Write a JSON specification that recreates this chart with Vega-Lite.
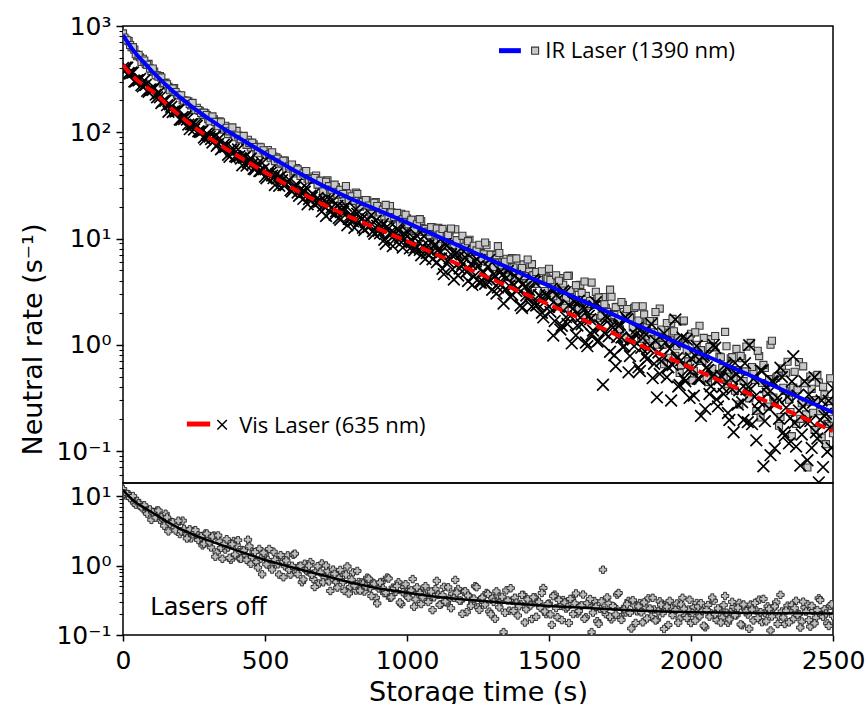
{
"$schema":"https://vega.github.io/schema/vega-lite/v6.json",
"padding":{"left":18,"top":13,"right":10,"bottom":0},
"background":"white",
"spacing":0,
"bounds":"flush",
"config":{"view":{"stroke":"black","strokeWidth":1.5},"font":"DejaVu Sans",
"axis":{"domain":false,"grid":false,"labelFont":"DejaVu Sans","labelFontSize":25,"labelColor":"black","titleFont":"DejaVu Sans","titleFontSize":27,"titleFontWeight":"normal","titleColor":"black","tickColor":"black","labelOverlap":false,"labelFlush":false}},
"datasets":{
"pts":[
{"t":0,"ir":851,"vis":403,"off":12.6},{"t":10,"ir":743,"vis":407,"off":10.2},{"t":20,"ir":721,"vis":361,"off":10.6},{"t":30,"ir":631,"vis":365,"off":9.14},{"t":40,"ir":600,"vis":300,"off":7.98},{"t":50,"ir":520,"vis":309,"off":8.53},{"t":60,"ir":508,"vis":317,"off":7.23},{"t":70,"ir":491,"vis":270,"off":7.26},{"t":80,"ir":437,"vis":279,"off":5.98},{"t":90,"ir":440,"vis":240,"off":6.32},
{"t":100,"ir":376,"vis":251,"off":4.54},{"t":110,"ir":372,"vis":262,"off":5.87},{"t":120,"ir":343,"vis":213,"off":6.19},{"t":130,"ir":338,"vis":213,"off":4.55},{"t":140,"ir":288,"vis":195,"off":4.73},{"t":150,"ir":294,"vis":199,"off":5.56},{"t":160,"ir":268,"vis":156,"off":3.1},{"t":170,"ir":259,"vis":174,"off":4.25},{"t":180,"ir":260,"vis":158,"off":3.56},{"t":190,"ir":226,"vis":159,"off":3.99},
{"t":200,"ir":223,"vis":132,"off":2.84},{"t":210,"ir":200,"vis":139,"off":4.42},{"t":220,"ir":199,"vis":141,"off":2.91},{"t":230,"ir":195,"vis":118,"off":3.12},{"t":240,"ir":179,"vis":119,"off":2.46},{"t":250,"ir":161,"vis":106,"off":3.16},{"t":260,"ir":170,"vis":115,"off":2.88},{"t":270,"ir":159,"vis":101,"off":2.49},{"t":280,"ir":146,"vis":103,"off":1.95},{"t":290,"ir":151,"vis":85.7,"off":2.89},
{"t":300,"ir":133,"vis":93.7,"off":2.42},{"t":310,"ir":132,"vis":86.3,"off":1.82},{"t":320,"ir":132,"vis":89.9,"off":2.7},{"t":330,"ir":115,"vis":74.6,"off":1.54},{"t":340,"ir":127,"vis":87.9,"off":2.23},{"t":350,"ir":111,"vis":71.1,"off":1.25},{"t":360,"ir":115,"vis":72.6,"off":1.7},{"t":370,"ir":96,"vis":61.3,"off":1.82},{"t":380,"ir":103,"vis":68.9,"off":1.21},{"t":390,"ir":95,"vis":69.0,"off":2.25},
{"t":400,"ir":103,"vis":58.4,"off":1.97},{"t":410,"ir":86,"vis":59.6,"off":1.27},{"t":420,"ir":88,"vis":48.9,"off":1.67},{"t":430,"ir":83,"vis":58.6,"off":1.39},{"t":440,"ir":85,"vis":52.1,"off":2.35},{"t":450,"ir":72,"vis":56.6,"off":1.06},{"t":460,"ir":77,"vis":45.4,"off":1.55},{"t":470,"ir":64,"vis":48.5,"off":1.13},{"t":480,"ir":73,"vis":43.2,"off":1.73},{"t":490,"ir":67,"vis":51.3,"off":0.746},
{"t":500,"ir":63,"vis":38.2,"off":1.47},{"t":510,"ir":68,"vis":41.0,"off":1.2},{"t":520,"ir":57,"vis":41.5,"off":0.955},{"t":530,"ir":59,"vis":37.0,"off":1.58},{"t":540,"ir":58,"vis":40.2,"off":1.14},{"t":550,"ir":50,"vis":31.3,"off":0.741},{"t":560,"ir":52,"vis":35.4,"off":1.33},{"t":570,"ir":54,"vis":32.3,"off":0.977},{"t":580,"ir":47,"vis":34.3,"off":1.4},{"t":590,"ir":48,"vis":28.4,"off":0.74},
{"t":600,"ir":41,"vis":30.2,"off":1.43},{"t":610,"ir":46,"vis":32.4,"off":0.798},{"t":620,"ir":42.8,"vis":25.2,"off":0.979},{"t":630,"ir":40.2,"vis":26.6,"off":0.575},{"t":640,"ir":42.4,"vis":27.5,"off":1.06},{"t":650,"ir":36.5,"vis":21.0,"off":0.822},{"t":660,"ir":38.3,"vis":25.3,"off":1.12},{"t":670,"ir":35.6,"vis":25.9,"off":0.64},{"t":680,"ir":39.2,"vis":21.9,"off":0.826},{"t":690,"ir":31.7,"vis":22.2,"off":0.551},
{"t":700,"ir":33.8,"vis":18.0,"off":1.07},{"t":710,"ir":30.5,"vis":23.0,"off":0.676},{"t":720,"ir":35.2,"vis":21.0,"off":0.83},{"t":730,"ir":26.7,"vis":17.7,"off":0.43},{"t":740,"ir":29.4,"vis":22.7,"off":0.873},{"t":750,"ir":30.5,"vis":18.0,"off":0.582},{"t":760,"ir":27.0,"vis":15.6,"off":0.662},{"t":770,"ir":22.5,"vis":18.9,"off":0.791},{"t":780,"ir":28.6,"vis":19.3,"off":0.431},{"t":790,"ir":26.5,"vis":13.3,"off":0.97},
{"t":800,"ir":23.1,"vis":16.5,"off":0.49},{"t":810,"ir":24.5,"vis":14.5,"off":0.796},{"t":820,"ir":27.1,"vis":18.9,"off":0.437},{"t":830,"ir":20.6,"vis":14.3,"off":0.579},{"t":840,"ir":23.0,"vis":15.2,"off":0.569},{"t":850,"ir":20.8,"vis":12.0,"off":0.422},{"t":860,"ir":22.9,"vis":15.2,"off":0.668},{"t":870,"ir":17.9,"vis":13.2,"off":0.472},{"t":880,"ir":20.0,"vis":11.7,"off":0.566},{"t":890,"ir":22.0,"vis":14.8,"off":0.344},
{"t":900,"ir":18.0,"vis":11.8,"off":0.468},{"t":910,"ir":19.8,"vis":12.9,"off":0.579},{"t":920,"ir":16.2,"vis":9.75,"off":0.4},{"t":930,"ir":18.1,"vis":12.9,"off":0.671},{"t":940,"ir":20.2,"vis":11.3,"off":0.343},{"t":950,"ir":15.4,"vis":8.47,"off":0.481},{"t":960,"ir":16.4,"vis":11.0,"off":0.418},{"t":970,"ir":15.4,"vis":11.9,"off":0.573},{"t":980,"ir":17.1,"vis":9.2,"off":0.278},{"t":990,"ir":12.3,"vis":9.81,"off":0.49},
{"t":1000,"ir":15.5,"vis":11.7,"off":0.366},{"t":1010,"ir":14.1,"vis":8.07,"off":0.42},{"t":1020,"ir":15.0,"vis":9.5,"off":0.638},{"t":1030,"ir":11.8,"vis":8.24,"off":0.326},{"t":1040,"ir":13.6,"vis":9.33,"off":0.436},{"t":1050,"ir":14.6,"vis":6.96,"off":0.279},{"t":1060,"ir":11.6,"vis":10.5,"off":0.384},{"t":1070,"ir":12.3,"vis":7.29,"off":0.452},{"t":1080,"ir":10.7,"vis":7.85,"off":0.337},{"t":1090,"ir":12.7,"vis":6.39,"off":0.228},
{"t":1100,"ir":11.1,"vis":8.79,"off":0.457},{"t":1110,"ir":12.6,"vis":7.87,"off":0.379},{"t":1120,"ir":8.55,"vis":6.49,"off":0.277},{"t":1130,"ir":11.4,"vis":4.62,"off":0.493},{"t":1140,"ir":10.3,"vis":8.55,"off":0.294},{"t":1150,"ir":11.6,"vis":6.5,"off":0.34},{"t":1160,"ir":8.65,"vis":5.14,"off":0.392},{"t":1170,"ir":12.2,"vis":7.11,"off":0.62},{"t":1180,"ir":8.69,"vis":4.48,"off":0.46},{"t":1190,"ir":9.4,"vis":6.07,"off":0.312},
{"t":1200,"ir":7.19,"vis":7.57,"off":0.417},{"t":1210,"ir":9.29,"vis":4.86,"off":0.213},{"t":1220,"ir":9.74,"vis":5.14,"off":0.357},{"t":1230,"ir":7.46,"vis":3.66,"off":0.292},{"t":1240,"ir":8.05,"vis":6.11,"off":0.504},{"t":1250,"ir":5.82,"vis":5.48,"off":0.25},{"t":1260,"ir":8.48,"vis":3.83,"off":0.327},{"t":1270,"ir":7.11,"vis":4.78,"off":0.299},{"t":1280,"ir":8.65,"vis":4.1,"off":0.402},{"t":1290,"ir":5.97,"vis":6.3,"off":0.217},
{"t":1300,"ir":7.05,"vis":3.29,"off":0.344},{"t":1310,"ir":5.9,"vis":4.46,"off":0.171},{"t":1320,"ir":8.47,"vis":3.45,"off":0.369},{"t":1330,"ir":5.11,"vis":4.88,"off":0.302},{"t":1340,"ir":6.04,"vis":2.44,"off":0.11},{"t":1350,"ir":6.44,"vis":4.26,"off":0.439},{"t":1360,"ir":5.39,"vis":3.58,"off":0.224},{"t":1370,"ir":6.56,"vis":2.95,"off":0.31},{"t":1380,"ir":4.26,"vis":4.44,"off":0.344},{"t":1390,"ir":5.6,"vis":3.37,"off":0.191},
{"t":1400,"ir":4.9,"vis":2.35,"off":0.28},{"t":1410,"ir":5.7,"vis":3.76,"off":0.377},{"t":1420,"ir":4.18,"vis":2.91,"off":0.234},{"t":1430,"ir":4.86,"vis":3.27,"off":0.306},{"t":1440,"ir":5.74,"vis":2.29,"off":0.17},{"t":1450,"ir":3.74,"vis":3.9,"off":0.348},{"t":1460,"ir":4.29,"vis":2.4,"off":0.284},{"t":1470,"ir":4.7,"vis":2.82,"off":0.246},{"t":1480,"ir":2.96,"vis":1.81,"off":0.474},{"t":1490,"ir":4.32,"vis":2.96,"off":0.2},
{"t":1500,"ir":5.18,"vis":2.28,"off":0.284},{"t":1510,"ir":3.4,"vis":3.37,"off":0.14},{"t":1520,"ir":3.8,"vis":1.67,"off":0.381},{"t":1530,"ir":2.62,"vis":2.31,"off":0.18},{"t":1540,"ir":4.23,"vis":1.39,"off":0.263},{"t":1550,"ir":3.67,"vis":3.23,"off":0.318},{"t":1560,"ir":2.77,"vis":1.82,"off":0.24},{"t":1570,"ir":4.48,"vis":2.36,"off":0.149},{"t":1580,"ir":3.01,"vis":1.03,"off":0.33},{"t":1590,"ir":2.38,"vis":2.54,"off":0.286},
{"t":1600,"ir":3.43,"vis":1.52,"off":0.204},{"t":1610,"ir":3.66,"vis":1.8,"off":0.261},{"t":1620,"ir":1.91,"vis":2.26,"off":0.382},{"t":1630,"ir":2.88,"vis":1.05,"off":0.18},{"t":1640,"ir":2.33,"vis":1.88,"off":0.272},{"t":1650,"ir":3.85,"vis":1.25,"off":0.11},{"t":1660,"ir":2.37,"vis":2.31,"off":0.308},{"t":1670,"ir":2.7,"vis":1.07,"off":0.158},{"t":1680,"ir":1.78,"vis":1.53,"off":0.238},{"t":1690,"ir":2.81,"vis":0.42,"off":0.87},
{"t":1700,"ir":2.22,"vis":1.88,"off":0.2},{"t":1710,"ir":1.79,"vis":1.2,"off":0.285},{"t":1720,"ir":2.83,"vis":1.51,"off":0.168},{"t":1730,"ir":1.91,"vis":0.798,"off":0.253},{"t":1740,"ir":2.28,"vis":1.18,"off":0.381},{"t":1750,"ir":1.4,"vis":1.54,"off":0.18},{"t":1760,"ir":2.37,"vis":0.953,"off":0.237},{"t":1770,"ir":1.92,"vis":1.82,"off":0.211},{"t":1780,"ir":1.15,"vis":0.55,"off":0.309},{"t":1790,"ir":1.9,"vis":1.17,"off":0.124},
{"t":1800,"ir":2.22,"vis":0.97,"off":0.267},{"t":1810,"ir":1.43,"vis":1.44,"off":0.219},{"t":1820,"ir":1.63,"vis":0.566,"off":0.288},{"t":1830,"ir":2.3,"vis":1.16,"off":0.152},{"t":1840,"ir":1.2,"vis":0.789,"off":0.249},{"t":1850,"ir":1.65,"vis":0.933,"off":0.336},{"t":1860,"ir":1.31,"vis":1.57,"off":0.182},{"t":1870,"ir":1.67,"vis":0.661,"off":0.233},{"t":1880,"ir":1.0,"vis":0.32,"off":0.166},{"t":1890,"ir":2.19,"vis":0.532,"off":0.305},
{"t":1900,"ir":0.995,"vis":0.78,"off":0.206},{"t":1910,"ir":1.3,"vis":1.05,"off":0.271},{"t":1920,"ir":0.755,"vis":0.614,"off":0.139},{"t":1930,"ir":1.59,"vis":0.299,"off":0.248},{"t":1940,"ir":1.34,"vis":1.06,"off":0.216},{"t":1950,"ir":0.97,"vis":0.746,"off":0.284},{"t":1960,"ir":0.543,"vis":0.418,"off":0.172},{"t":1970,"ir":1.66,"vis":1.17,"off":0.343},{"t":1980,"ir":1.03,"vis":0.454,"off":0.191},{"t":1990,"ir":0.697,"vis":0.582,"off":0.232},
{"t":2000,"ir":1.27,"vis":0.746,"off":0.149},{"t":2010,"ir":0.569,"vis":0.332,"off":0.251},{"t":2020,"ir":1.0,"vis":0.975,"off":0.288},{"t":2030,"ir":1.51,"vis":0.475,"off":0.185},{"t":2040,"ir":0.703,"vis":0.767,"off":0.223},{"t":2050,"ir":0.794,"vis":0.248,"off":0.129},{"t":2060,"ir":0.445,"vis":0.578,"off":0.27},{"t":2070,"ir":1.13,"vis":0.407,"off":0.205},{"t":2080,"ir":0.946,"vis":0.995,"off":0.31},{"t":2090,"ir":0.511,"vis":0.306,"off":0.164},
{"t":2100,"ir":0.773,"vis":0.472,"off":0.234},{"t":2110,"ir":0.603,"vis":0.4,"off":0.178},{"t":2120,"ir":1.32,"vis":0.646,"off":0.364},{"t":2130,"ir":0.425,"vis":0.228,"off":0.15},{"t":2140,"ir":0.745,"vis":0.485,"off":0.215},{"t":2150,"ir":0.484,"vis":0.15,"off":0.254},{"t":2160,"ir":0.914,"vis":0.528,"off":0.192},{"t":2170,"ir":0.274,"vis":0.372,"off":0.29},{"t":2180,"ir":0.746,"vis":0.288,"off":0.138},{"t":2190,"ir":0.561,"vis":0.671,"off":0.239},
{"t":2200,"ir":0.369,"vis":0.187,"off":0.197},{"t":2210,"ir":1.04,"vis":0.384,"off":0.274},{"t":2220,"ir":0.551,"vis":0.479,"off":0.162},{"t":2230,"ir":0.238,"vis":0.126,"off":0.225},{"t":2240,"ir":0.782,"vis":0.293,"off":0.323},{"t":2250,"ir":0.437,"vis":0.566,"off":0.153},{"t":2260,"ir":0.605,"vis":0.191,"off":0.207},{"t":2270,"ir":0.262,"vis":0.347,"off":0.258},{"t":2280,"ir":1.0,"vis":0.0914,"off":0.116},{"t":2290,"ir":0.319,"vis":0.448,"off":0.244},
{"t":2300,"ir":0.49,"vis":0.282,"off":0.295},{"t":2310,"ir":0.173,"vis":0.201,"off":0.185},{"t":2320,"ir":0.597,"vis":0.497,"off":0.218},{"t":2330,"ir":0.368,"vis":0.139,"off":0.144},{"t":2340,"ir":0.692,"vis":0.324,"off":0.264},{"t":2350,"ir":0.233,"vis":0.204,"off":0.23},{"t":2360,"ir":0.395,"vis":0.78,"off":0.169},{"t":2370,"ir":0.18,"vis":0.11,"off":0.311},{"t":2380,"ir":0.687,"vis":0.241,"off":0.2},{"t":2390,"ir":0.282,"vis":0.143,"off":0.156},
{"t":2400,"ir":0.434,"vis":0.452,"off":0.249},{"t":2410,"ir":0.07,"vis":0.082,"off":0.278},{"t":2420,"ir":0.502,"vis":0.191,"off":0.132},{"t":2430,"ir":0.229,"vis":0.286,"off":0.222},{"t":2440,"ir":0.301,"vis":0.15,"off":0.178},{"t":2450,"ir":0.441,"vis":0.0507,"off":0.337},{"t":2460,"ir":0.134,"vis":0.299,"off":0.193},{"t":2470,"ir":0.34,"vis":0.213,"off":0.234},{"t":2480,"ir":0.18,"vis":0.0984,"off":0.147},{"t":2490,"ir":0.483,"vis":0.167,"off":0.262},
{"t":2500,"ir":0.147,"vis":0.389,"off":0.188},
{"t":5,"ir":780,"vis":373,"off":10.9},{"t":15,"ir":733,"vis":404,"off":10.7},{"t":25,"ir":662,"vis":356,"off":9.35},{"t":35,"ir":632,"vis":365,"off":10.0},{"t":45,"ir":542,"vis":302,"off":7.52},{"t":55,"ir":535,"vis":308,"off":7.85},{"t":65,"ir":459,"vis":277,"off":6.88},{"t":75,"ir":473,"vis":307,"off":7.36},{"t":85,"ir":431,"vis":245,"off":5.58},{"t":95,"ir":397,"vis":253,"off":6.41},
{"t":105,"ir":398,"vis":251,"off":5.81},{"t":115,"ir":344,"vis":226,"off":4.9},{"t":125,"ir":334,"vis":233,"off":6.18},{"t":135,"ir":327,"vis":188,"off":4.94},{"t":145,"ir":290,"vis":198,"off":3.73},{"t":155,"ir":283,"vis":180,"off":4.92},{"t":165,"ir":249,"vis":183,"off":4.01},{"t":175,"ir":258,"vis":155,"off":4.2},{"t":185,"ir":239,"vis":157,"off":3.2},{"t":195,"ir":223,"vis":161,"off":4.41},
{"t":205,"ir":223,"vis":131,"off":3.1},{"t":215,"ir":198,"vis":133,"off":3.37},{"t":225,"ir":198,"vis":132,"off":2.45},{"t":235,"ir":184,"vis":107,"off":3.31},{"t":245,"ir":189,"vis":119,"off":2.81},{"t":255,"ir":162,"vis":118,"off":3.23},{"t":265,"ir":162,"vis":102,"off":2.33},{"t":275,"ir":152,"vis":101,"off":2.62},{"t":285,"ir":153,"vis":89.1,"off":2.06},{"t":295,"ir":145,"vis":96.8,"off":2.88},
{"t":305,"ir":127,"vis":91.0,"off":2.15},{"t":315,"ir":141,"vis":80.0,"off":2.62},{"t":325,"ir":125,"vis":91.7,"off":1.34},{"t":335,"ir":114,"vis":77.4,"off":2.71},{"t":345,"ir":124,"vis":69.2,"off":1.79},{"t":355,"ir":106,"vis":76.3,"off":2.02},{"t":365,"ir":110,"vis":75.9,"off":2.39},{"t":375,"ir":102,"vis":58.7,"off":1.29},{"t":385,"ir":111,"vis":65.9,"off":2.02},{"t":395,"ir":89.7,"vis":59.5,"off":1.44},
{"t":405,"ir":93.2,"vis":69.0,"off":2.31},{"t":415,"ir":85.8,"vis":56.6,"off":1.25},{"t":425,"ir":92.3,"vis":57.7,"off":1.64},{"t":435,"ir":76.1,"vis":48.5,"off":1.21},{"t":445,"ir":79.5,"vis":55.4,"off":1.89},{"t":455,"ir":79.8,"vis":49.7,"off":1.32},{"t":465,"ir":72.6,"vis":44.9,"off":1.56},{"t":475,"ir":63.5,"vis":51.2,"off":0.934},{"t":485,"ir":72.3,"vis":43.4,"off":1.26},{"t":495,"ir":67.7,"vis":45.0,"off":1.53},
{"t":505,"ir":61.0,"vis":36.9,"off":1.04},{"t":515,"ir":61.9,"vis":43.3,"off":1.73},{"t":525,"ir":64.8,"vis":39.1,"off":0.874},{"t":535,"ir":53.5,"vis":31.9,"off":1.21},{"t":545,"ir":56.3,"vis":37.0,"off":1.04},{"t":555,"ir":51.9,"vis":38.1,"off":1.41},{"t":565,"ir":54.0,"vis":31.8,"off":0.678},{"t":575,"ir":45.4,"vis":32.5,"off":1.18},{"t":585,"ir":47.7,"vis":35.6,"off":0.872},{"t":595,"ir":49.6,"vis":27.7,"off":0.99},
{"t":605,"ir":42.9,"vis":30.1,"off":1.48},{"t":615,"ir":44.7,"vis":27.1,"off":0.75},{"t":625,"ir":38.8,"vis":28.9,"off":0.992},{"t":635,"ir":40.9,"vis":23.6,"off":0.63},{"t":645,"ir":43.1,"vis":30.2,"off":0.854},{"t":655,"ir":35.7,"vis":23.5,"off":0.995},{"t":665,"ir":36.4,"vis":24.3,"off":0.736},{"t":675,"ir":37.1,"vis":21.0,"off":0.491},{"t":685,"ir":32.2,"vis":24.1,"off":0.974},{"t":695,"ir":35.0,"vis":22.6,"off":0.796},
{"t":705,"ir":27.7,"vis":20.3,"off":0.573},{"t":715,"ir":34.2,"vis":16.3,"off":1.0},{"t":725,"ir":31.1,"vis":23.5,"off":0.59},{"t":735,"ir":28.8,"vis":19.6,"off":0.669},{"t":745,"ir":32.1,"vis":16.7,"off":0.759},{"t":755,"ir":25.9,"vis":20.2,"off":0.482},{"t":765,"ir":28.7,"vis":15.0,"off":0.864},{"t":775,"ir":26.2,"vis":17.9,"off":0.576},{"t":785,"ir":31.2,"vis":20.3,"off":0.742},{"t":795,"ir":22.8,"vis":15.3,"off":0.395},
{"t":805,"ir":25.0,"vis":15.7,"off":0.625},{"t":815,"ir":22.6,"vis":12.6,"off":0.513},{"t":825,"ir":26.3,"vis":17.1,"off":0.835},{"t":835,"ir":19.95,"vis":15.8,"off":0.435},{"t":845,"ir":22.1,"vis":12.6,"off":0.549},{"t":855,"ir":23.0,"vis":14.3,"off":0.498},{"t":865,"ir":20.4,"vis":12.9,"off":0.646},{"t":875,"ir":17.0,"vis":16.6,"off":0.363},{"t":885,"ir":21.7,"vis":11.1,"off":0.547},{"t":895,"ir":20.2,"vis":13.2,"off":0.285},
{"t":905,"ir":17.6,"vis":11.2,"off":0.569},{"t":915,"ir":18.7,"vis":13.7,"off":0.469},{"t":925,"ir":20.7,"vis":8.92,"off":0.407},{"t":935,"ir":15.7,"vis":12.4,"off":0.65},{"t":945,"ir":17.6,"vis":11.0,"off":0.349},{"t":955,"ir":15.9,"vis":9.72,"off":0.466},{"t":965,"ir":17.4,"vis":12.3,"off":0.508},{"t":975,"ir":13.6,"vis":10.3,"off":0.294},{"t":985,"ir":15.2,"vis":8.21,"off":0.413},{"t":995,"ir":16.7,"vis":10.8,"off":0.538},
{"t":1005,"ir":13.6,"vis":9.17,"off":0.345},{"t":1015,"ir":15.0,"vis":9.75,"off":0.439},{"t":1025,"ir":12.2,"vis":7.74,"off":0.255},{"t":1035,"ir":13.6,"vis":10.6,"off":0.485},{"t":1045,"ir":15.2,"vis":7.81,"off":0.401},{"t":1055,"ir":11.6,"vis":8.51,"off":0.349},{"t":1065,"ir":12.3,"vis":6.43,"off":0.504},{"t":1075,"ir":11.6,"vis":8.58,"off":0.299},{"t":1085,"ir":12.8,"vis":7.45,"off":0.421},{"t":1095,"ir":9.18,"vis":8.54,"off":0.348},
{"t":1105,"ir":12.4,"vis":5.97,"off":0.601},{"t":1115,"ir":10.9,"vis":7.29,"off":0.272},{"t":1125,"ir":12.3,"vis":5.2,"off":0.375},{"t":1135,"ir":8.45,"vis":8.85,"off":0.303},{"t":1145,"ir":10.8,"vis":6.05,"off":0.486},{"t":1155,"ir":12.4,"vis":7.11,"off":0.243},{"t":1165,"ir":8.66,"vis":4.12,"off":0.344},{"t":1175,"ir":9.64,"vis":7.31,"off":0.407},{"t":1185,"ir":7.83,"vis":5.21,"off":0.313},{"t":1195,"ir":10.6,"vis":5.74,"off":0.202},
{"t":1205,"ir":8.36,"vis":6.59,"off":0.427},{"t":1215,"ir":9.44,"vis":3.98,"off":0.369},{"t":1225,"ir":6.41,"vis":5.74,"off":0.263},{"t":1235,"ir":8.54,"vis":4.36,"off":0.334},{"t":1245,"ir":7.73,"vis":6.41,"off":0.488},{"t":1255,"ir":8.73,"vis":3.88,"off":0.23},{"t":1265,"ir":6.49,"vis":4.84,"off":0.345},{"t":1275,"ir":9.17,"vis":3.75,"off":0.274},{"t":1285,"ir":6.52,"vis":5.41,"off":0.39},{"t":1295,"ir":7.04,"vis":4.02,"off":0.199},
{"t":1305,"ir":5.39,"vis":4.61,"off":0.299},{"t":1315,"ir":6.97,"vis":3.03,"off":0.425},{"t":1325,"ir":7.3,"vis":3.85,"off":0.25},{"t":1335,"ir":5.59,"vis":4.52,"off":0.355},{"t":1345,"ir":6.04,"vis":3.29,"off":0.209},{"t":1355,"ir":4.36,"vis":4.95,"off":0.314},{"t":1365,"ir":6.36,"vis":2.81,"off":0.471},{"t":1375,"ir":5.33,"vis":3.66,"off":0.222},{"t":1385,"ir":6.49,"vis":3.21,"off":0.291},{"t":1395,"ir":4.47,"vis":4.08,"off":0.259},
{"t":1405,"ir":5.28,"vis":2.22,"off":0.378},{"t":1415,"ir":4.43,"vis":3.48,"off":0.151},{"t":1425,"ir":6.35,"vis":2.7,"off":0.325},{"t":1435,"ir":3.83,"vis":2.97,"off":0.266},{"t":1445,"ir":4.52,"vis":4.11,"off":0.348},{"t":1455,"ir":4.83,"vis":2.34,"off":0.183},{"t":1465,"ir":4.04,"vis":2.92,"off":0.3},{"t":1475,"ir":4.92,"vis":2.0,"off":0.403},{"t":1485,"ir":3.2,"vis":2.54,"off":0.218},{"t":1495,"ir":4.19,"vis":2.86,"off":0.278},
{"t":1505,"ir":4.06,"vis":2.04,"off":0.198},{"t":1515,"ir":2.86,"vis":1.22,"off":0.362},{"t":1525,"ir":4.51,"vis":2.94,"off":0.244},{"t":1535,"ir":4.0,"vis":2.28,"off":0.32},{"t":1545,"ir":3.24,"vis":1.51,"off":0.164},{"t":1555,"ir":2.23,"vis":3.08,"off":0.292},{"t":1565,"ir":4.44,"vis":1.57,"off":0.253},{"t":1575,"ir":3.27,"vis":1.86,"off":0.331},{"t":1585,"ir":2.53,"vis":2.19,"off":0.2},{"t":1595,"ir":3.64,"vis":1.23,"off":0.397},
{"t":1605,"ir":2.18,"vis":2.6,"off":0.221},{"t":1615,"ir":3.07,"vis":1.56,"off":0.267},{"t":1625,"ir":3.94,"vis":2.16,"off":0.171},{"t":1635,"ir":2.42,"vis":0.97,"off":0.288},{"t":1645,"ir":2.58,"vis":1.74,"off":0.329},{"t":1655,"ir":1.78,"vis":1.36,"off":0.21},{"t":1665,"ir":3.15,"vis":2.51,"off":0.254},{"t":1675,"ir":2.79,"vis":1.09,"off":0.145},{"t":1685,"ir":1.88,"vis":1.47,"off":0.305},{"t":1695,"ir":2.41,"vis":1.29,"off":0.23},
{"t":1705,"ir":2.04,"vis":1.79,"off":0.347},{"t":1715,"ir":3.3,"vis":0.859,"off":0.183},{"t":1725,"ir":1.61,"vis":1.45,"off":0.261},{"t":1735,"ir":2.26,"vis":0.628,"off":0.197},{"t":1745,"ir":1.71,"vis":1.51,"off":0.402},{"t":1755,"ir":2.52,"vis":1.17,"off":0.165},{"t":1765,"ir":1.17,"vis":0.97,"off":0.236},{"t":1775,"ir":2.17,"vis":1.74,"off":0.277},{"t":1785,"ir":1.8,"vis":0.782,"off":0.209},{"t":1795,"ir":1.46,"vis":1.12,"off":0.316},
{"t":1805,"ir":2.3,"vis":1.24,"off":0.149},{"t":1815,"ir":1.69,"vis":0.612,"off":0.258},{"t":1825,"ir":1.14,"vis":0.935,"off":0.212},{"t":1835,"ir":1.93,"vis":1.3,"off":0.294},{"t":1845,"ir":1.46,"vis":0.731,"off":0.173},{"t":1855,"ir":1.67,"vis":0.982,"off":0.24},{"t":1865,"ir":1.12,"vis":0.485,"off":0.343},{"t":1875,"ir":2.03,"vis":1.09,"off":0.162},{"t":1885,"ir":1.19,"vis":0.847,"off":0.219},{"t":1895,"ir":1.39,"vis":0.702,"off":0.272},
{"t":1905,"ir":0.655,"vis":1.28,"off":0.122},{"t":1915,"ir":1.6,"vis":0.494,"off":0.256},{"t":1925,"ir":1.12,"vis":0.916,"off":0.31},{"t":1935,"ir":1.75,"vis":0.646,"off":0.193},{"t":1945,"ir":0.787,"vis":1.73,"off":0.228},{"t":1955,"ir":1.15,"vis":0.405,"off":0.15},{"t":1965,"ir":0.644,"vis":0.716,"off":0.275},{"t":1975,"ir":1.69,"vis":0.482,"off":0.239},{"t":1985,"ir":0.881,"vis":1.12,"off":0.176},{"t":1995,"ir":1.19,"vis":0.316,"off":0.322},
{"t":2005,"ir":0.462,"vis":0.585,"off":0.207},{"t":2015,"ir":1.31,"vis":0.785,"off":0.161},{"t":2025,"ir":0.733,"vis":0.482,"off":0.257},{"t":2035,"ir":0.889,"vis":0.214,"off":0.287},{"t":2045,"ir":1.16,"vis":0.793,"off":0.136},{"t":2055,"ir":0.485,"vis":0.614,"off":0.229},{"t":2065,"ir":0.951,"vis":0.344,"off":0.184},{"t":2075,"ir":0.594,"vis":0.506,"off":0.346},{"t":2085,"ir":1.21,"vis":0.938,"off":0.199},{"t":2095,"ir":0.504,"vis":0.263,"off":0.241},
{"t":2105,"ir":0.762,"vis":0.511,"off":0.151},{"t":2115,"ir":0.494,"vis":0.344,"off":0.269},{"t":2125,"ir":0.968,"vis":0.608,"off":0.209},{"t":2135,"ir":0.583,"vis":0.196,"off":0.168},{"t":2145,"ir":0.764,"vis":0.381,"off":0.3},{"t":2155,"ir":0.369,"vis":0.675,"off":0.192},{"t":2165,"ir":0.579,"vis":0.274,"off":0.247},{"t":2175,"ir":0.785,"vis":0.484,"off":0.142},{"t":2185,"ir":0.456,"vis":0.196,"off":0.275},{"t":2195,"ir":0.962,"vis":0.381,"off":0.22},
{"t":2205,"ir":0.313,"vis":0.989,"off":0.123},{"t":2215,"ir":0.618,"vis":0.179,"off":0.232},{"t":2225,"ir":0.467,"vis":0.325,"off":0.289},{"t":2235,"ir":0.877,"vis":0.247,"off":0.176},{"t":2245,"ir":0.207,"vis":0.574,"off":0.213},{"t":2255,"ir":0.646,"vis":0.0718,"off":0.331},{"t":2265,"ir":0.36,"vis":0.398,"off":0.157},{"t":2275,"ir":0.474,"vis":0.251,"off":0.238},{"t":2285,"ir":1.09,"vis":0.454,"off":0.185},{"t":2295,"ir":0.284,"vis":0.106,"off":0.258},
{"t":2305,"ir":0.508,"vis":0.315,"off":0.144},{"t":2315,"ir":0.209,"vis":0.607,"off":0.378},{"t":2325,"ir":0.393,"vis":0.15,"off":0.179},{"t":2335,"ir":0.545,"vis":0.256,"off":0.224},{"t":2345,"ir":0.304,"vis":0.118,"off":0.152},{"t":2355,"ir":0.138,"vis":0.452,"off":0.271},{"t":2365,"ir":0.556,"vis":0.184,"off":0.243},{"t":2375,"ir":0.379,"vis":0.333,"off":0.194},{"t":2385,"ir":0.201,"vis":0.0729,"off":0.128},{"t":2395,"ir":0.627,"vis":0.262,"off":0.302},
{"t":2405,"ir":0.221,"vis":0.187,"off":0.217},{"t":2415,"ir":0.292,"vis":0.338,"off":0.164},{"t":2425,"ir":0.385,"vis":0.107,"off":0.263},{"t":2435,"ir":0.158,"vis":0.494,"off":0.147},{"t":2445,"ir":0.52,"vis":0.131,"off":0.229},{"t":2455,"ir":0.237,"vis":0.196,"off":0.318},{"t":2465,"ir":0.402,"vis":0.0706,"off":0.183},{"t":2475,"ir":0.116,"vis":0.224,"off":0.204},{"t":2485,"ir":0.295,"vis":0.297,"off":0.135},{"t":2495,"ir":0.201,"vis":0.107,"off":0.277}
],
"fit":[
{"t":0,"ir":822,"vis":430,"off":12.2},{"t":10,"ir":746,"vis":398,"off":11.0},{"t":20,"ir":678,"vis":370,"off":10.0},{"t":30,"ir":621,"vis":347,"off":9.14},{"t":40,"ir":574,"vis":327,"off":8.43},{"t":50,"ir":531,"vis":309,"off":7.8},{"t":60,"ir":497,"vis":294,"off":7.38},{"t":80,"ir":435,"vis":268,"off":6.59},{"t":100,"ir":380,"vis":247,"off":5.9},{"t":125,"ir":327,"vis":218,"off":5.09},{"t":150,"ir":281,"vis":187,"off":4.4},{"t":175,"ir":245,"vis":163,"off":3.86},{"t":200,"ir":214,"vis":143,"off":3.4},{"t":250,"ir":168,"vis":112,"off":2.75},{"t":300,"ir":135,"vis":89.9,"off":2.3},{"t":350,"ir":110,"vis":73.5,"off":1.95},{"t":400,"ir":91.2,"vis":60.8,"off":1.65},{"t":450,"ir":75.9,"vis":50.6,"off":1.41},{"t":500,"ir":63.1,"vis":42.1,"off":1.2},{"t":600,"ir":44.2,"vis":29.4,"off":0.93},{"t":700,"ir":31.8,"vis":21.2,"off":0.73},{"t":800,"ir":23.8,"vis":15.9,"off":0.57},{"t":900,"ir":18.4,"vis":12.3,"off":0.468},{"t":1000,"ir":14.1,"vis":9.42,"off":0.405},{"t":1100,"ir":10.7,"vis":7.14,"off":0.355},{"t":1200,"ir":8.15,"vis":5.43,"off":0.325},{"t":1300,"ir":6.19,"vis":4.13,"off":0.3},{"t":1400,"ir":4.71,"vis":3.14,"off":0.28},{"t":1500,"ir":3.58,"vis":2.39,"off":0.262},{"t":1600,"ir":2.72,"vis":1.82,"off":0.248},{"t":1700,"ir":2.07,"vis":1.38,"off":0.236},{"t":1800,"ir":1.57,"vis":1.05,"off":0.226},{"t":1900,"ir":1.2,"vis":0.798,"off":0.218},{"t":2000,"ir":0.91,"vis":0.607,"off":0.213},{"t":2100,"ir":0.692,"vis":0.461,"off":0.21},{"t":2200,"ir":0.526,"vis":0.351,"off":0.208},{"t":2300,"ir":0.4,"vis":0.267,"off":0.206},{"t":2400,"ir":0.304,"vis":0.203,"off":0.205},{"t":2500,"ir":0.231,"vis":0.154,"off":0.204}
]
},
"vconcat":[
{"width":710,"height":457,
"layer":[
{"data":{"name":"pts"},
"mark":{"type":"point","shape":"square","filled":true,"fill":"#c8c8c8","stroke":"#3a3a3a","strokeWidth":1.1,"size":50,"opacity":1,"clip":true},
"encoding":{"x":{"field":"t","type":"quantitative","scale":{"domain":[0,2500],"nice":false,"zero":false},"axis":null},
"y":{"field":"ir","type":"quantitative","scale":{"type":"log","domain":[0.05,1000],"nice":false},
"axis":{"title":"Neutral rate (s⁻¹)","values":[0.06,0.07,0.08,0.09,0.1,0.2,0.3,0.4,0.5,0.6,0.7,0.8,0.9,1,2,3,4,5,6,7,8,9,10,20,30,40,50,60,70,80,90,100,200,300,400,500,600,700,800,900,1000],
"labelExpr":"datum.value == 1000 ? '10³' : datum.value == 100 ? '10²' : datum.value == 10 ? '10¹' : datum.value == 1 ? '10⁰' : datum.value == 0.1 ? '10⁻¹' : ''",
"tickSize":{"condition":{"test":"indexof([0.1,1,10,100,1000], datum.value) >= 0","value":7},"value":4},
"tickWidth":{"condition":{"test":"indexof([0.1,1,10,100,1000], datum.value) >= 0","value":1.5},"value":1.1},
"labelPadding":5,"titleX":-82,"titleY":313,"titleBaseline":"alphabetic","titleAlign":"center","titleAngle":270}}}},
{"data":{"name":"pts"},
"mark":{"type":"point","shape":"M-1,-1L1,1M-1,1L1,-1","filled":false,"stroke":"black","strokeWidth":1.7,"size":137,"opacity":1,"clip":true},
"encoding":{"x":{"field":"t","type":"quantitative","scale":{"domain":[0,2500],"nice":false,"zero":false},"axis":null},
"y":{"field":"vis","type":"quantitative","scale":{"type":"log","domain":[0.05,1000],"nice":false}}}},
{"data":{"name":"fit"},
"mark":{"type":"line","color":"#0000ff","strokeWidth":4,"clip":true},
"encoding":{"x":{"field":"t","type":"quantitative","scale":{"domain":[0,2500],"nice":false,"zero":false},"axis":null},
"y":{"field":"ir","type":"quantitative","scale":{"type":"log","domain":[0.05,1000],"nice":false}}}},
{"data":{"name":"fit"},
"mark":{"type":"line","color":"#ff0000","strokeWidth":4,"strokeDash":[11,5],"clip":true},
"encoding":{"x":{"field":"t","type":"quantitative","scale":{"domain":[0,2500],"nice":false,"zero":false},"axis":null},
"y":{"field":"vis","type":"quantitative","scale":{"type":"log","domain":[0.05,1000],"nice":false}}}},
{"data":{"values":[{"t1":1324,"t2":1401,"y":586}]},
"mark":{"type":"rule","color":"#0000ff","strokeWidth":5},
"encoding":{"x":{"field":"t1","type":"quantitative","scale":{"domain":[0,2500],"nice":false,"zero":false},"axis":null},"x2":{"field":"t2"},
"y":{"field":"y","type":"quantitative","scale":{"type":"log","domain":[0.05,1000],"nice":false}}}},
{"data":{"values":[{"t1":225,"t2":307,"y":0.1795}]},
"mark":{"type":"rule","color":"#ff0000","strokeWidth":5},
"encoding":{"x":{"field":"t1","type":"quantitative","scale":{"domain":[0,2500],"nice":false,"zero":false},"axis":null},"x2":{"field":"t2"},
"y":{"field":"y","type":"quantitative","scale":{"type":"log","domain":[0.05,1000],"nice":false}}}},
{"data":{"values":[{"t":1451,"y":586}]},
"mark":{"type":"point","shape":"square","filled":true,"fill":"#c8c8c8","stroke":"#3a3a3a","strokeWidth":1.1,"size":50,"opacity":1},
"encoding":{"x":{"field":"t","type":"quantitative","scale":{"domain":[0,2500],"nice":false,"zero":false},"axis":null},
"y":{"field":"y","type":"quantitative","scale":{"type":"log","domain":[0.05,1000],"nice":false}}}},
{"data":{"values":[{"t":349,"y":0.177}]},
"mark":{"type":"point","shape":"M-1,-1L1,1M-1,1L1,-1","filled":false,"stroke":"black","strokeWidth":1.5,"size":90,"opacity":1},
"encoding":{"x":{"field":"t","type":"quantitative","scale":{"domain":[0,2500],"nice":false,"zero":false},"axis":null},
"y":{"field":"y","type":"quantitative","scale":{"type":"log","domain":[0.05,1000],"nice":false}}}},
{"data":{"values":[{"t":1487,"y":497,"label":"IR Laser (1390 nm)"},{"t":409,"y":0.1486,"label":"Vis Laser (635 nm)"}]},
"mark":{"type":"text","font":"Open Sans","fontSize":22,"align":"left","baseline":"alphabetic","color":"black"},
"encoding":{"x":{"field":"t","type":"quantitative","scale":{"domain":[0,2500],"nice":false,"zero":false},"axis":null},
"y":{"field":"y","type":"quantitative","scale":{"type":"log","domain":[0.05,1000],"nice":false}},
"text":{"field":"label"}}}
]},
{"width":710,"height":152,
"layer":[
{"data":{"name":"pts"},
"mark":{"type":"point","shape":"cross","filled":true,"fill":"#bdbdbd","stroke":"#222222","strokeWidth":0.9,"size":55,"opacity":1,"clip":true},
"encoding":{"x":{"field":"t","type":"quantitative","scale":{"domain":[0,2500],"nice":false,"zero":false},
"axis":{"title":"Storage time (s)","values":[0,500,1000,1500,2000,2500],"format":"d","tickSize":6,"tickWidth":1.5,"labelPadding":7,"labelBaseline":"top","titleY":65,"titleBaseline":"alphabetic","labelFlush":false}},
"y":{"field":"off","type":"quantitative","scale":{"type":"log","domain":[0.1,15.4],"nice":false},
"axis":{"title":null,"values":[0.1,0.2,0.3,0.4,0.5,0.6,0.7,0.8,0.9,1,2,3,4,5,6,7,8,9,10],
"labelExpr":"datum.value == 10 ? '10¹' : datum.value == 1 ? '10⁰' : datum.value == 0.1 ? '10⁻¹' : ''",
"tickSize":{"condition":{"test":"indexof([0.1,1,10], datum.value) >= 0","value":7},"value":4},
"tickWidth":{"condition":{"test":"indexof([0.1,1,10], datum.value) >= 0","value":1.5},"value":1.1},
"labelPadding":5}}}},
{"data":{"name":"fit"},
"mark":{"type":"line","color":"black","strokeWidth":2.5,"clip":true},
"encoding":{"x":{"field":"t","type":"quantitative","scale":{"domain":[0,2500],"nice":false,"zero":false}},
"y":{"field":"off","type":"quantitative","scale":{"type":"log","domain":[0.1,15.4],"nice":false}}}},
{"data":{"values":[{"t":96,"y":0.194,"label":"Lasers off"}]},
"mark":{"type":"text","font":"DejaVu Sans","fontSize":24,"align":"left","baseline":"alphabetic","color":"black"},
"encoding":{"x":{"field":"t","type":"quantitative","scale":{"domain":[0,2500],"nice":false,"zero":false}},
"y":{"field":"y","type":"quantitative","scale":{"type":"log","domain":[0.1,15.4],"nice":false}},
"text":{"field":"label"}}}
]}
]
}
